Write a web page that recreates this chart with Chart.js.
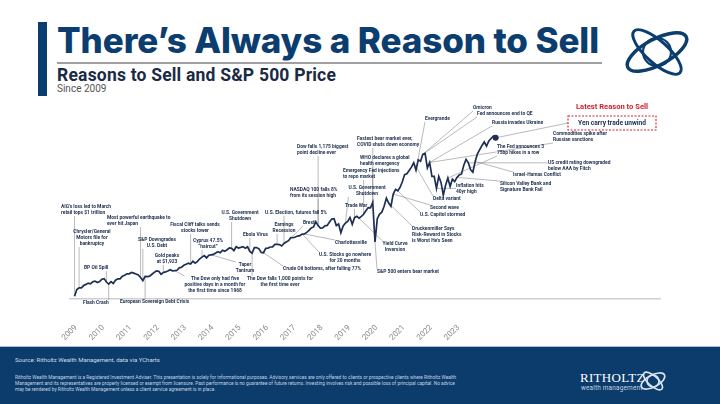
<!DOCTYPE html>
<html>
<head>
<meta charset="utf-8">
<script src="https://cdn.jsdelivr.net/npm/chart.js@4.4.1/dist/chart.umd.min.js"></script>
<style>
  html, body { margin: 0; padding: 0; background: #fff; }
  body { width: 720px; height: 404px; position: relative; overflow: hidden; font-family: Roboto, sans-serif; }
  #chart { position: absolute; left: 0; top: 0; z-index: 1; }
  .bar { position: absolute; left: 38px; top: 22px; width: 9px; height: 74px; background: #0c3d6f; }
  h1 { position: absolute; left: 57px; top: 23px; margin: 0; font: 800 35px/35px Inter, sans-serif; color: #0c3d6f; letter-spacing: -0.1px; white-space: nowrap; }
  .rule { position: absolute; left: 57px; top: 62px; width: 545px; height: 1.5px; background: #a0a0a0; }
  h2 { position: absolute; left: 57px; top: 67px; margin: 0; font: 700 17.5px/17.5px Roboto, sans-serif; color: #1b2a44; letter-spacing: 0.2px; white-space: nowrap; }
  .since { position: absolute; left: 57px; top: 84px; font: 400 10px/10px Roboto, sans-serif; color: #555; }
  .logo { position: absolute; left: 620px; top: 20px; }
  .footer { position: absolute; left: 0; top: 346px; width: 720px; height: 58px; background: #0b3c6c; border-top: 1.5px solid #a9c0d8; z-index: 2; }
  .source { position: absolute; left: 15px; top: 10px; font: 400 6px/6px Roboto, sans-serif; color: #d3dce8; white-space: nowrap; }
  .disc { position: absolute; left: 15px; top: 28px; width: 448px; font: 400 4.8px/6px Roboto, sans-serif; color: #c6d2e1; }
  .brand { position: absolute; left: 580px; top: 24px; font: 400 13px/13px "Liberation Serif", serif; color: #fff; letter-spacing: 0.3px; }
  .brand2 { position: absolute; left: 581px; top: 38px; font: 400 6.4px/6px Roboto, sans-serif; color: #c6d2e1; letter-spacing: 0.2px; }
  .mark { position: absolute; left: 638px; top: 19px; }
</style>
</head>
<body>
<canvas id="chart" width="720" height="404"></canvas>
<div class="bar"></div>
<h1>There’s Always a Reason to Sell</h1>
<div class="rule"></div>
<h2>Reasons to Sell and S&amp;P 500 Price</h2>
<div class="since">Since 2009</div>
<svg class="logo" width="74" height="64" viewBox="0 0 74 64">
  <g fill="none" stroke="#0c3d6f">
    <ellipse cx="37" cy="32" rx="33" ry="13" stroke-width="3.5" transform="rotate(-28 37 32)"/>
    <ellipse cx="37" cy="32" rx="31" ry="11" stroke-width="3" transform="rotate(42 37 32)"/>
    <circle cx="37" cy="32" r="14" stroke-width="2.2"/>
  </g>
</svg>
<div class="footer">
  <div class="source">Source: Ritholtz Wealth Management, data via YCharts</div>
  <div class="disc">Ritholtz Wealth Management is a Registered Investment Adviser. This presentation is solely for informational purposes. Advisory services are only offered to clients or prospective clients where Ritholtz Wealth Management and its representatives are properly licensed or exempt from licensure. Past performance is no guarantee of future returns. Investing involves risk and possible loss of principal capital. No advice may be rendered by Ritholtz Wealth Management unless a client service agreement is in place.</div>
  <div class="brand">RITHOLTZ</div>
  <div class="brand2">wealth management</div>
  <svg class="mark" width="30" height="30" viewBox="0 0 30 30">
    <g fill="none" stroke="#d8e2ee" stroke-width="1.6">
      <ellipse cx="15" cy="15" rx="13" ry="6" transform="rotate(-28 15 15)"/>
      <ellipse cx="15" cy="15" rx="12" ry="5" transform="rotate(42 15 15)"/>
      <circle cx="15" cy="15" r="6"/>
    </g>
  </svg>
</div>
<script>
// S&P 500, monthly, starting March 2009
const firstYear = 2009;
const firstMonth = 3;
const monthlyClose = [
  [680, 873, 919, 919, 987, 1021, 1057, 1036, 1096, 1115],
  [1074, 1104, 1169, 1187, 1089, 1031, 1102, 1049, 1141, 1183, 1181, 1258],
  [1286, 1327, 1326, 1364, 1345, 1321, 1292, 1219, 1131, 1253, 1247, 1258],
  [1312, 1366, 1408, 1398, 1310, 1362, 1379, 1407, 1441, 1412, 1416, 1426],
  [1498, 1515, 1569, 1598, 1631, 1606, 1686, 1633, 1682, 1757, 1806, 1848],
  [1783, 1859, 1872, 1884, 1924, 1960, 1931, 2003, 1972, 2018, 2068, 2059],
  [1995, 2105, 2068, 2086, 2107, 2063, 2104, 1972, 1920, 2079, 2080, 2044],
  [1940, 1932, 2060, 2065, 2097, 2099, 2174, 2171, 2168, 2126, 2199, 2239],
  [2279, 2364, 2363, 2384, 2412, 2423, 2470, 2472, 2519, 2575, 2648, 2674],
  [2824, 2714, 2641, 2648, 2705, 2718, 2816, 2902, 2914, 2712, 2760, 2507],
  [2704, 2784, 2834, 2946, 2752, 2942, 2980, 2926, 2977, 3038, 3141, 3231],
  [3226, 3380, 2240, 2912, 3044, 3100, 3271, 3500, 3363, 3270, 3622, 3756],
  [3714, 3811, 3973, 4181, 4204, 4298, 4395, 4523, 4308, 4605, 4567, 4766],
  [4790, 4374, 4530, 4132, 4132, 3785, 4130, 3955, 3586, 3872, 4080, 3840],
  [4050, 3980, 4100, 4170, 4200, 4450, 4620, 4520, 4320, 4250, 4560, 4780],
  [4900, 5020, 5120, 5000, 5150, 5220, 5290, 5240]
];
const tickYears = [2009, 2010, 2011, 2012, 2013, 2014, 2015, 2016, 2017, 2018, 2019, 2020, 2021, 2022, 2023];

// reasons to sell: text, label spot on the page, and the date it points at
const notes = [
  { lines: ["AIG's loss led to March", 'retail tops $1 trillion'], x: 61, y: 207, date: 2009.17 },
  { lines: ['Chrysler/General', 'Motors file for', 'bankruptcy'], x: 92, y: 232, align: 'center', date: 2009.35 },
  { lines: ['BP Oil Spill'], x: 84, y: 268, date: 2010.3 },
  { lines: ['Flash Crash'], x: 83, y: 303, date: 2010.4 },
  { lines: ['Most powerful earthquake to', 'ever hit Japan'], x: 107, y: 218, date: 2011.6 },
  { lines: ['European Sovereign Debt Crisis'], x: 120, y: 302, date: 2011.75 },
  { lines: ['S&P Downgrades', 'U.S. Debt'], x: 157, y: 240, align: 'center', date: 2011.7 },
  { lines: ['Gold peaks', 'at $1,923'], x: 167, y: 256, align: 'center', date: 2012.4 },
  { lines: ['Fiscal Cliff talks sends', 'stocks lower'], x: 195, y: 225, align: 'center', date: 2013.4 },
  { lines: ['Cyprus 47.5%', '“haircut”'], x: 208, y: 241, align: 'center', date: 2013.8 },
  { lines: ['U.S. Government', 'Shutdown'], x: 240, y: 213, align: 'center', date: 2014.9 },
  { lines: ['Ebola Virus'], x: 243, y: 235, date: 2015.6 },
  { lines: ['Taper', 'Tantrum'], x: 245, y: 265, align: 'center', date: 2014.2 },
  { lines: ['The Dow only had five', 'positive days in a month for', 'the first time since 1968'], x: 215, y: 279, align: 'center', date: 2012.8 },
  { lines: ['The Dow falls 1,000 points for', 'the first time ever'], x: 280, y: 279, align: 'center', date: 2015.65 },
  { lines: ['Earnings', 'Recession'], x: 284, y: 225, align: 'center', date: 2016.6 },
  { lines: ['U.S. Election, futures fall 5%'], x: 265, y: 213, date: 2016.85 },
  { lines: ['Crude Oil bottoms, after falling 77%'], x: 283, y: 269, date: 2016.1 },
  { lines: ['U.S. Stocks go nowhere', 'for 20 months'], x: 345, y: 255, align: 'center', date: 2017.5 },
  { lines: ['Brexit'], x: 303, y: 223, date: 2017.0 },
  { lines: ['NASDAQ 100 falls 8%', 'from its session high'], x: 290, y: 190, date: 2018.1 },
  { lines: ['Dow falls 1,175 biggest', 'point decline ever'], x: 297, y: 147, date: 2018.05 },
  { lines: ['Charlottesville'], x: 335, y: 243, date: 2017.6 },
  { lines: ['Trade War'], x: 345, y: 206, date: 2019.4 },
  { lines: ['U.S. Government', 'Shutdown'], x: 367, y: 188, align: 'center', date: 2019.05 },
  { lines: ['Yield Curve', 'Inversion'], x: 395, y: 244, align: 'center', date: 2019.6 },
  { lines: ['S&P 500 enters bear market'], x: 377, y: 272, date: 2020.2 },
  { lines: ['Emergency Fed injections', 'to repo market'], x: 343, y: 171, date: 2019.75 },
  { lines: ['WHO declares a global', 'health emergency'], x: 360, y: 158, date: 2020.08 },
  { lines: ['Fastest bear market ever,', 'COVID shuts down economy'], x: 357, y: 139, date: 2020.12 },
  { lines: ['Evergrande'], x: 425, y: 119, date: 2021.7 },
  { lines: ['Omicron'], x: 473, y: 108, date: 2021.9 },
  { lines: ['Fed announces end to QE'], x: 477, y: 114, date: 2021.95 },
  { lines: ['Russia invades Ukraine'], x: 492, y: 123, date: 2022.15 },
  { lines: ['Commodities spike after', 'Russian sanctions'], x: 553, y: 134, date: 2022.2 },
  { lines: ['The Fed announces 3', '75bp hikes in a row'], x: 497, y: 147, date: 2022.85 },
  { lines: ['US credit rating downgraded', 'below AAA by Fitch'], x: 548, y: 163, date: 2023.6 },
  { lines: ['Israel-Hamas Conflict'], x: 513, y: 175, date: 2023.8 },
  { lines: ['Silicon Valley Bank and', 'Signature Bank Fail'], x: 500, y: 184, date: 2023.2 },
  { lines: ['Inflation hits', '40yr high'], x: 456, y: 186, date: 2022.45 },
  { lines: ['Delta variant'], x: 433, y: 199, date: 2021.55 },
  { lines: ['Second wave'], x: 430, y: 208, date: 2020.85 },
  { lines: ['U.S. Capitol stormed'], x: 420, y: 215, date: 2021.0 },
  { lines: ['Druckenmiller Says', 'Risk-Reward in Stocks', "is Worst He's Seen"], x: 412, y: 229, date: 2020.7 }
];
const latestTitle = 'Latest Reason to Sell';
const latestReason = 'Yen carry trade unwind';

// flatten to {x: decimal year, y: price}
const points = [];
monthlyClose.forEach((row, yi) => {
  row.forEach((v, mi) => {
    const month = (yi === 0 ? firstMonth : 1) + mi;
    points.push({ x: firstYear + yi + (month - 1) / 12, y: v });
  });
});

const noteFont = '700 4.9px Roboto, sans-serif';
const lineGap = 6;

function nearestPoint(date) {
  let best = points[0];
  points.forEach(p => { if (Math.abs(p.x - date) < Math.abs(best.x - date)) best = p; });
  return best;
}

function noteBox(ctx, n) {
  const widths = n.lines.map(t => ctx.measureText(t).width);
  const w = Math.max(...widths);
  const left = n.align === 'center' ? n.x - w / 2 : n.x;
  return { left, right: left + w, top: n.y - 3, bottom: n.y + (n.lines.length - 1) * lineGap + 3 };
}

const reasonsPlugin = {
  id: 'reasons',
  beforeDatasetsDraw(chart) {
    const { ctx, scales: { x, y } } = chart;
    ctx.save();
    ctx.font = noteFont;
    ctx.strokeStyle = '#8c8c8c';
    ctx.lineWidth = 0.6;
    notes.forEach(n => {
      const p = nearestPoint(n.date);
      const tx = x.getPixelForValue(p.x), ty = y.getPixelForValue(p.y);
      const b = noteBox(ctx, n);
      const sx = Math.min(Math.max(tx, b.left), b.right);
      const sy = Math.min(Math.max(ty, b.top), b.bottom);
      ctx.beginPath();
      ctx.moveTo(sx, sy);
      ctx.lineTo(tx, ty);
      ctx.stroke();
    });
    // leader from the latest reason box to the last point
    const last = points[points.length - 1];
    ctx.beginPath();
    ctx.moveTo(568, 123);
    ctx.lineTo(x.getPixelForValue(last.x), y.getPixelForValue(last.y));
    ctx.stroke();
    ctx.restore();
  },
  afterDatasetsDraw(chart) {
    const { ctx } = chart;
    ctx.save();
    ctx.font = noteFont;
    ctx.fillStyle = '#1c2e4e';
    ctx.textBaseline = 'middle';
    notes.forEach(n => {
      ctx.textAlign = n.align || 'left';
      n.lines.forEach((t, i) => ctx.fillText(t, n.x, n.y + i * lineGap));
    });

    // latest reason callout
    ctx.textAlign = 'center';
    ctx.fillStyle = '#d3202e';
    ctx.font = '700 7.6px Roboto, sans-serif';
    ctx.fillText(latestTitle, 612, 107);
    ctx.fillStyle = '#fff';
    ctx.fillRect(568, 116, 88, 14);
    ctx.setLineDash([2, 1.5]);
    ctx.strokeStyle = '#d3202e';
    ctx.lineWidth = 1.1;
    ctx.strokeRect(568, 116, 88, 14);
    ctx.setLineDash([]);
    ctx.fillStyle = '#1c2e4e';
    ctx.font = '700 6.6px Roboto, sans-serif';
    ctx.fillText(latestReason, 612, 123.5);
    ctx.restore();
  }
};

new Chart(document.getElementById('chart'), {
  type: 'line',
  data: {
    datasets: [{
      data: points,
      borderColor: '#1d2f52',
      borderWidth: 1.7,
      tension: 0,
      pointRadius: c => (c.dataIndex === points.length - 1 ? 3 : 0),
      pointBackgroundColor: '#1d2f52',
      pointBorderWidth: 0
    }]
  },
  options: {
    responsive: false,
    animation: false,
    layout: { padding: { left: 70, right: 60, top: 101, bottom: 60 } },
    plugins: { legend: { display: false }, tooltip: { enabled: false } },
    scales: {
      x: {
        type: 'linear',
        min: 2009,
        max: 2030.6,
        grid: { display: false },
        border: { display: true, color: '#cfcfcf', width: 1.5 },
        afterBuildTicks: axis => { axis.ticks = tickYears.map(v => ({ value: v })); },
        afterFit: axis => { axis.height = 45; },
        ticks: {
          autoSkip: false,
          minRotation: 45,
          maxRotation: 45,
          padding: 16,
          labelOffset: 6,
          color: '#888',
          font: { family: 'Roboto', size: 8 },
          callback: v => String(v)
        }
      },
      y: { display: false, min: 600, max: 6300 }
    }
  },
  plugins: [reasonsPlugin]
});
</script>
</body>
</html>
